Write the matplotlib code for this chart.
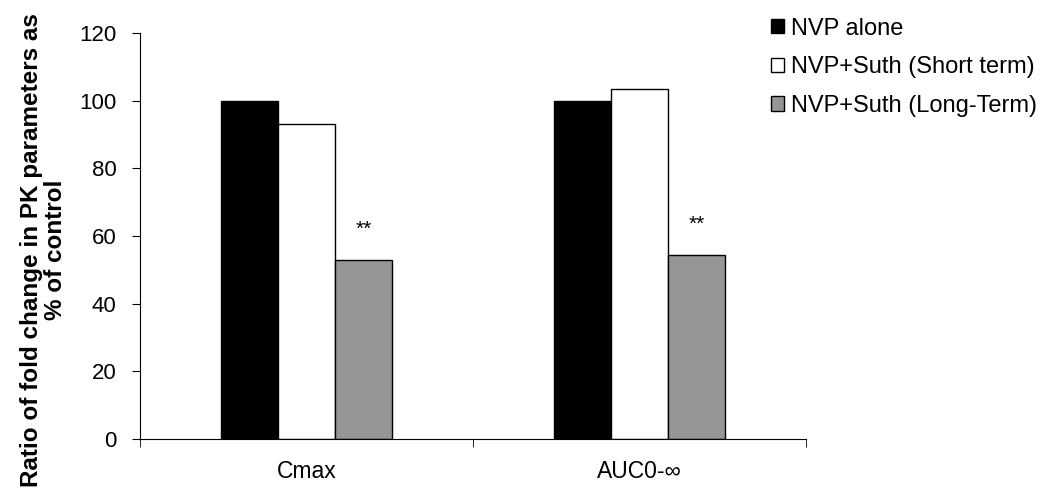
import matplotlib
matplotlib.use("Agg")
import matplotlib.pyplot as plt
import numpy as np

plt.rcParams["font.family"] = ["Liberation Sans", "DejaVu Sans"]

categories = ["Cmax", "AUC0-\u221e"]
series_names = ["NVP alone", "NVP+Suth (Short term)", "NVP+Suth (Long-Term)"]
nvp_alone = [100, 100]
short_term = [93, 103.3]
long_term = [52.9, 54.4]
sig_marks = ["**", "**"]
colors = ["#000000", "#ffffff", "#969696"]

fig = plt.figure(figsize=(10.5, 4.99), dpi=100)
ax = fig.add_axes([0.1333, 0.1202, 0.6343, 0.8137])

x = np.arange(len(categories))
width = 0.172
series = [nvp_alone, short_term, long_term]
for i, (name, vals, c) in enumerate(zip(series_names, series, colors)):
    bars = ax.bar(x + (i - 1) * width, vals, width, color=c, edgecolor="black",
                  linewidth=1.0, label=name)
    if i == 2:
        for b, m in zip(bars, sig_marks):
            ax.text(b.get_x() + b.get_width() / 2, b.get_height() + 7.5, m,
                    ha="center", va="baseline", fontsize=15)

ax.set_xlim(-0.5, len(categories) - 0.5)
ax.set_ylim(0, 120)
ax.set_yticks(range(0, 121, 20))
ax.set_xticks(x)
ax.set_xticklabels(categories, fontsize=16.5)
ax.tick_params(axis="x", length=0, pad=15)
ax.set_xticks(np.arange(-0.5, len(categories)), minor=True)
ax.tick_params(axis="x", which="minor", length=6, direction="out")
ax.tick_params(axis="y", labelsize=16, length=6, direction="out", pad=11)
for s in ["top", "right"]:
    ax.spines[s].set_visible(False)
ax.set_ylabel("Ratio of fold change in PK parameters as\n% of control",
              fontsize=17.5, fontweight="bold", labelpad=9, linespacing=1.05,
              y=0.465)

ax.legend(loc="upper left", bbox_to_anchor=(0.915, 1.09), frameon=False,
          fontsize=17, handlelength=0.55, handleheight=0.55, handletextpad=0.3,
          labelspacing=0.7)

fig.savefig("out.png", dpi=100)
